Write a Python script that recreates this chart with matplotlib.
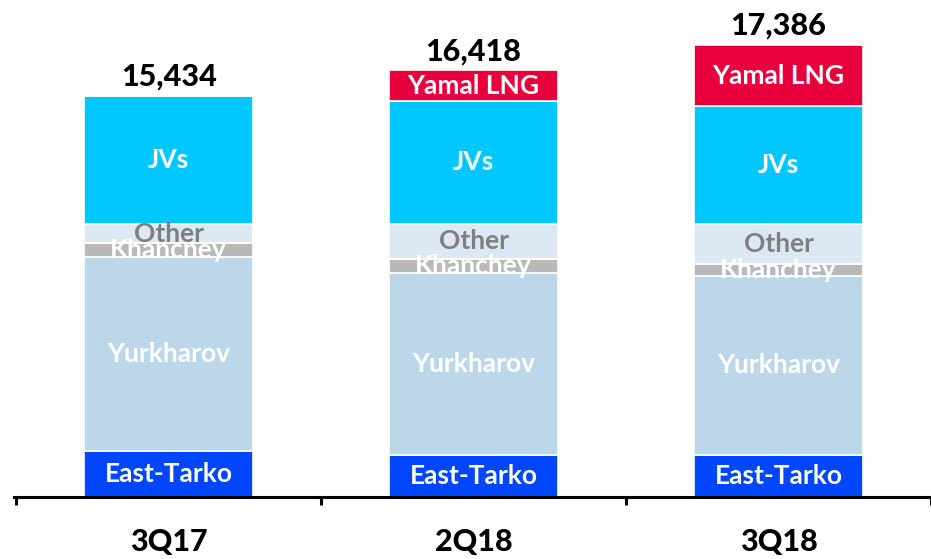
import matplotlib.pyplot as plt
import numpy as np

categories = ["3Q17", "2Q18", "3Q18"]
segments = ["East-Tarko", "Yurkharov", "Khanchey", "Other", "JVs", "Yamal LNG"]
east_tarko = [1762, 1617, 1615]
yurkharov = [7473, 6982, 6892]
khanchey = [540, 547, 465]
other = [713, 1367, 1538]
jvs = [4946, 4725, 4527]
yamal_lng = [0, 1180, 2349]
totals = [15434, 16418, 17386]

colors = ["#0046ff", "#bdd7ea", "#b9b9b9", "#dde8f5", "#00c8ff", "#e8003d"]
label_colors = ["white", "white", "white", "#7f7f7f", "white", "white"]

plt.rcParams["font.family"] = ["Lato", "DejaVu Sans"]

fig = plt.figure(figsize=(9.31, 5.59), dpi=100)
ax = fig.add_axes([14 / 931, 62 / 559, 917 / 931, 497 / 559])

x = np.arange(len(categories))
width = 0.553
bottom = np.zeros(len(categories))
for name, vals, col, lcol in zip(
    segments, [east_tarko, yurkharov, khanchey, other, jvs, yamal_lng], colors, label_colors
):
    vals = np.array(vals, dtype=float)
    ax.bar(x, vals, width, bottom=bottom, color=col, edgecolor="white", linewidth=1.2)
    for xi, b, v in zip(x, bottom, vals):
        if v > 0:
            ax.text(xi, b + v / 2, name, ha="center", va="center", color=lcol,
                    fontsize=19, fontweight="bold")
    bottom += vals

for xi, b, t in zip(x, bottom, totals):
    ax.text(xi, b + 200, f"{t:,}", ha="center", va="bottom", color="black",
            fontsize=22, fontweight="black")

ax.set_xlim(-0.507, 2.475)
ax.set_ylim(0, 19120)
ax.set_yticks([])
for s in ["left", "right", "top"]:
    ax.spines[s].set_visible(False)
ax.spines["bottom"].set_linewidth(2.2)
ax.set_xticks(x)
ax.set_xticklabels(categories, fontsize=22, fontweight="black")
ax.tick_params(axis="x", which="major", length=0, pad=22)
ax.set_xticks([-0.5, 0.5, 1.5, 2.5], minor=True)
ax.tick_params(axis="x", which="minor", length=6, width=2.2, direction="out")

fig.savefig("out.png", dpi=100)
